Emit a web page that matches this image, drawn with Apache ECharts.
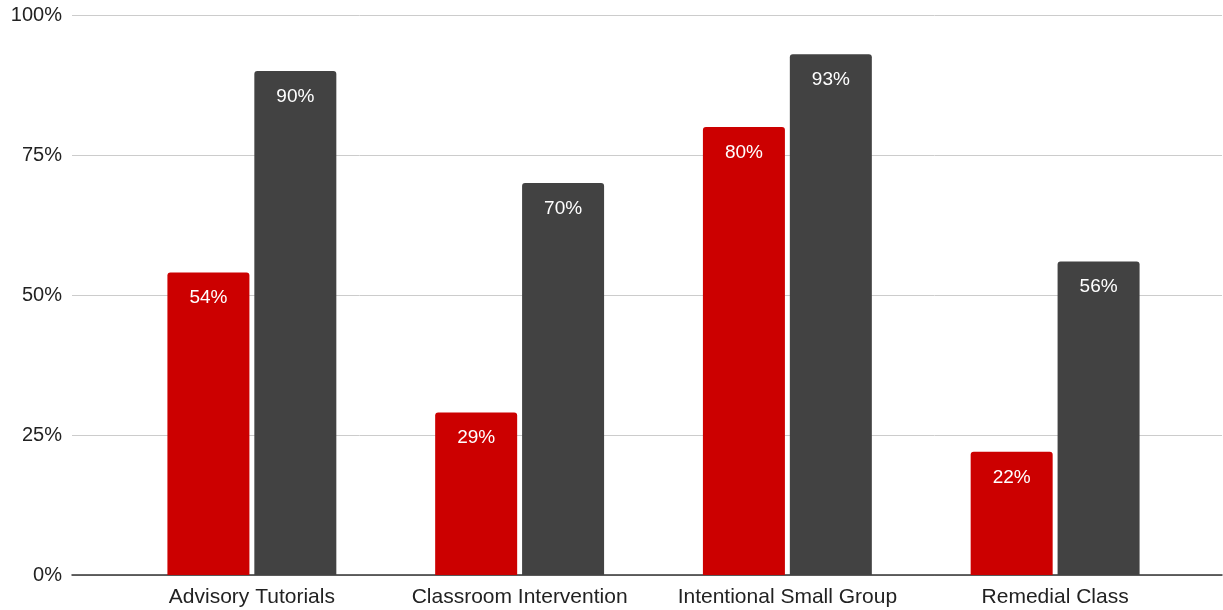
<!DOCTYPE html>
<html><head><meta charset="utf-8">
<script src="https://cdn.jsdelivr.net/npm/echarts@6/dist/echarts.min.js"></script>
<style>html,body{margin:0;padding:0;background:#fff}#c{width:1223px;height:610px}</style>
</head><body><div id="c"></div>
<script>
const categories = ['Advisory Tutorials', 'Classroom Intervention', 'Intentional Small Group', 'Remedial Class'];
const seriesA = [54, 29, 80, 22];
const seriesB = [90, 70, 93, 56];
const yTicks = [0, 25, 50, 75, 100];

const chart = echarts.init(document.getElementById('c'));
const font = '"Liberation Sans", Arial, sans-serif';
chart.setOption({
  animation: false,
  grid: [
    {left: 72, right: 1, top: 15, bottom: 35},
    {left: 118, right: 34, top: 15, bottom: 35}
  ],
  xAxis: [
    {gridIndex: 0, type: 'category', data: categories, axisLabel: {show: false}, axisTick: {show: false},
     axisLine: {lineStyle: {color: '#333', width: 1.5}}},
    {gridIndex: 1, type: 'category', data: categories, axisTick: {show: false}, axisLine: {show: false},
     axisLabel: {color: '#222', fontSize: 21, fontFamily: font, margin: 12, interval: 0}}
  ],
  yAxis: [
    {gridIndex: 0, type: 'value', min: yTicks[0], max: yTicks[yTicks.length-1], interval: 25,
     axisLabel: {formatter: '{value}%', color: '#222', fontSize: 20, fontFamily: font, margin: 10},
     axisLine: {show: false}, axisTick: {show: false},
     splitLine: {lineStyle: {color: '#cccccc', width: 1}}},
    {gridIndex: 1, type: 'value', min: 0, max: 100, interval: 25, show: false, splitLine: {show: false}}
  ],
  series: [
    {type: 'bar', xAxisIndex: 1, yAxisIndex: 1, data: seriesA, barWidth: 82, barGap: '6%',
     itemStyle: {color: '#cc0000', borderRadius: [3,3,0,0]},
     label: {show: true, position: 'insideTop', distance: 16, formatter: '{c}%', color: '#fff', fontSize: 19, fontFamily: font}},
    {type: 'bar', xAxisIndex: 1, yAxisIndex: 1, data: seriesB, barWidth: 82,
     itemStyle: {color: '#424242', borderRadius: [3,3,0,0]},
     label: {show: true, position: 'insideTop', distance: 16, formatter: '{c}%', color: '#fff', fontSize: 19, fontFamily: font}}
  ]
});
</script></body></html>
